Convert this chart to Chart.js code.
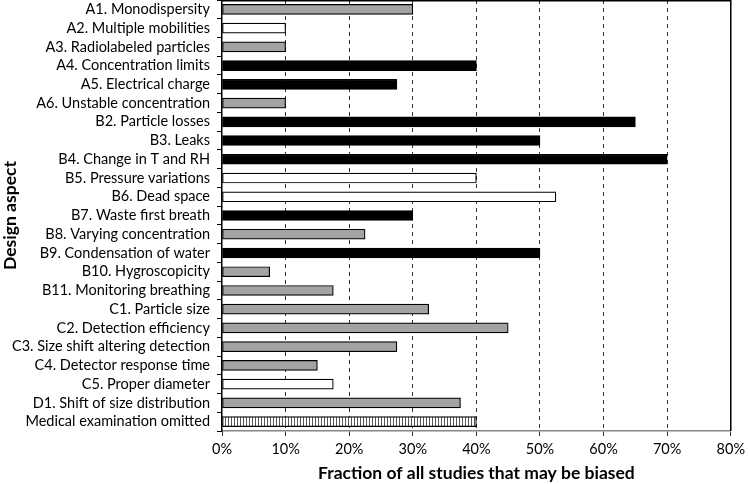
<!DOCTYPE html>
<html>
<head>
<meta charset="utf-8">
<script src="https://cdn.jsdelivr.net/npm/chart.js@4/dist/chart.umd.min.js"></script>
<style>
  html, body { margin: 0; padding: 0; background: #fff; }
  #wrap { width: 750px; height: 484px; }
</style>
</head>
<body>
<div id="wrap"><canvas id="barChart"></canvas></div>
<script>
// categories, top to bottom
const aspects = [
    'A1. Monodispersity', 'A2. Multiple mobilities', 'A3. Radiolabeled particles',
    'A4. Concentration limits', 'A5. Electrical charge', 'A6. Unstable concentration',
    'B2. Particle losses', 'B3. Leaks', 'B4. Change in T and RH', 'B5. Pressure variations',
    'B6. Dead space', 'B7. Waste first breath', 'B8. Varying concentration',
    'B9. Condensation of water', 'B10. Hygroscopicity', 'B11. Monitoring breathing',
    'C1. Particle size', 'C2. Detection efficiency', 'C3. Size shift altering detection',
    'C4. Detector response time', 'C5. Proper diameter', 'D1. Shift of size distribution',
    'Medical examination omitted'
];
// fraction of studies (%)
const fractions = [30, 10, 10, 40, 27.5, 10, 65, 50, 70, 40, 52.5, 30, 22.5, 50, 7.5, 17.5,
                   32.5, 45, 27.5, 15, 17.5, 37.5, 40];
// fill kind per bar: g = gray, w = white, b = black, s = striped
const fillKind = ['g', 'w', 'g', 'b', 'b', 'g', 'b', 'b', 'b', 'w', 'w', 'b', 'g', 'b', 'g', 'g',
                  'g', 'g', 'g', 'g', 'w', 'g', 's'];
const xTicks = [0, 10, 20, 30, 40, 50, 60, 70, 80];

function stripePattern() {
    const c = document.createElement('canvas');
    c.width = 3; c.height = 10;
    const g = c.getContext('2d');
    g.fillStyle = '#fff';
    g.fillRect(0, 0, 3, 10);
    g.fillStyle = '#555';
    g.fillRect(0, 0, 1, 10);
    return document.getElementById('barChart').getContext('2d').createPattern(c, 'repeat');
}

const stripes = stripePattern();
const fillMap = { g: '#a3a3a3', w: '#ffffff', b: '#000000', s: stripes };

// top and right frame lines
const framePlugin = {
    id: 'frame',
    afterDraw(chart) {
        const a = chart.chartArea;
        const ctx = chart.ctx;
        ctx.save();
        ctx.strokeStyle = '#000';
        ctx.lineWidth = 1.5;
        ctx.beginPath();
        ctx.moveTo(a.left, a.top + 0.75);
        ctx.lineTo(a.right, a.top + 0.75);
        ctx.lineTo(a.right, a.bottom);
        ctx.stroke();
        ctx.restore();
    }
};

const font = "Lato, Open Sans, sans-serif";

new Chart(document.getElementById('barChart'), {
    type: 'bar',
    data: {
        labels: aspects,
        datasets: [{
            data: fractions,
            backgroundColor: fillKind.map(k => fillMap[k]),
            borderColor: '#000',
            borderWidth: 1.2,
            borderSkipped: false,
            barThickness: 10
        }]
    },
    options: {
        indexAxis: 'y',
        responsive: true,
        maintainAspectRatio: false,
        animation: false,
        layout: { padding: { top: 0, right: 13, left: 0, bottom: 0 } },
        plugins: { legend: { display: false }, tooltip: { enabled: false } },
        scales: {
            x: {
                min: 0,
                max: 80,
                afterBuildTicks: axis => { axis.ticks = xTicks.map(v => ({ value: v })); },
                afterFit: axis => { axis.height = 53; },
                border: { display: true, color: '#888', width: 1.5, dash: [4, 4] },
                grid: {
                    color: ctx => (ctx.tick && (ctx.tick.value === 0 || ctx.tick.value === 80)) ? 'rgba(0,0,0,0)' : '#333',
                    tickColor: '#333',
                    tickLength: 5,
                    lineWidth: 1,
                    drawOnChartArea: true
                },
                ticks: {
                    callback: v => v + '%',
                    color: '#000',
                    font: { family: font, size: 14.5 },
                    padding: 5,
                    maxRotation: 0
                },
                title: {
                    display: true,
                    text: 'Fraction of all studies that may be biased',
                    color: '#000',
                    font: { family: font, size: 17.5, weight: 'bold' },
                    padding: { top: 0, bottom: 0 }
                }
            },
            y: {
                afterFit: axis => {
                    axis.width = 222;
                    axis.paddingTop = 0;
                    axis.paddingBottom = 0;
                },
                border: { display: true, color: '#000', width: 1.5 },
                grid: {
                    offset: true,
                    drawOnChartArea: false,
                    tickLength: 5,
                    color: '#000'
                },
                ticks: {
                    color: '#000',
                    font: { family: font, size: 14.5 },
                    padding: 7,
                    autoSkip: false
                },
                title: {
                    display: true,
                    text: 'Design aspect',
                    color: '#000',
                    font: { family: font, size: 17.5, weight: 'bold' },
                    padding: { top: 0, bottom: 0 }
                }
            }
        }
    },
    plugins: [framePlugin]
});
</script>
</body>
</html>
